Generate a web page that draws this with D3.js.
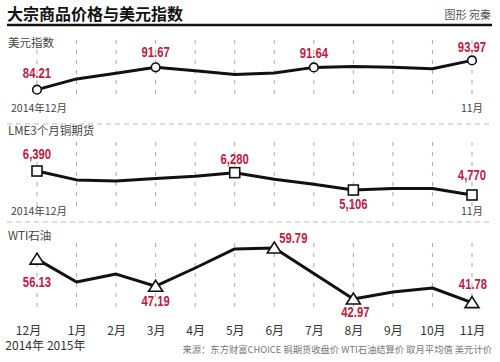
<!DOCTYPE html>
<html>
<head>
<meta charset="utf-8">
<script src="https://cdn.jsdelivr.net/npm/d3@7"></script>
<style>
  body { margin: 0; background: #fff; }
  svg { display: block; font-family: "Noto Sans CJK SC", "Noto Sans", sans-serif; }
</style>
</head>
<body>
<div id="chart"></div>
<script>
const months = ["12月", "1月", "2月", "3月", "4月", "5月", "6月", "7月", "8月", "9月", "10月", "11月"];
const years = ["2014年", "2015年"];

const dollarIndex = [84.21, 87.8, 89.7, 91.67, 90.5, 89.3, 89.8, 91.64, 91.9, 91.7, 91.2, 93.97];
const copper = [6390, 5790, 5710, 5880, 6030, 6280, 5830, 5500, 5106, 5217, 5216, 4770];
const oil = [56.13, 48.6, 51.2, 47.19, 53.2, 59.5, 59.79, 51.4, 42.97, 45.3, 46.6, 41.78];

// which months get a marker + value label
const dollarMarks = [0, 3, 7, 11];
const copperMarks = [0, 5, 8, 11];
const oilMarks = [0, 3, 6, 8, 11];

const width = 500, height = 362;
const red = "#c4173f";
const numFont = "'Liberation Sans', Arial, sans-serif";

const svg = d3.select("#chart").append("svg")
  .attr("width", width)
  .attr("height", height);

const x = d3.scalePoint()
  .domain(months)
  .range([37, 472]);

// title
svg.append("text")
  .attr("x", 7).attr("y", 20)
  .attr("font-size", 16).attr("font-weight", 700)
  .attr("fill", "#111")
  .text("大宗商品价格与美元指数");

svg.append("text")
  .attr("x", 491).attr("y", 19)
  .attr("text-anchor", "end")
  .attr("font-size", 11).attr("fill", "#555")
  .text("图形 宛秦");

svg.append("line")
  .attr("x1", 7).attr("x2", 492)
  .attr("y1", 25).attr("y2", 25)
  .attr("stroke", "#111").attr("stroke-width", 2.5);

// panel separators
[124, 222].forEach(y => {
  svg.append("line")
    .attr("x1", 7).attr("x2", 492)
    .attr("y1", y).attr("y2", y)
    .attr("stroke", "#bbb").attr("stroke-width", 1)
    .attr("stroke-dasharray", "5,4");
});

const panels = [
  {
    name: "美元指数", values: dollarIndex, marks: dollarMarks, shape: "circle",
    labelY: 47, gridTop: 40, gridBottom: 98,
    y: d3.scaleLinear().domain([80, 96]).range([102.3, 54.3]),
    fmt: d3.format(".2f"),
    place: [[0, -17], [0, -16], [0, -15], [0, -14]],
    footer: 112
  },
  {
    name: "LME3个月铜期货", values: copper, marks: copperMarks, shape: "square",
    labelY: 135, gridTop: 142, gridBottom: 207,
    y: d3.scaleLinear().domain([4500, 6500]).range([199, 169.4]),
    fmt: d3.format(","),
    place: [[0, -17], [0, -14], [0, 14], [0, -20]],
    footer: 215
  },
  {
    name: "WTI石油", values: oil, marks: oilMarks, shape: "triangle",
    labelY: 240, gridTop: 243, gridBottom: 313,
    y: d3.scaleLinear().domain([40, 60]).range([308, 247.4]),
    fmt: d3.format(".2f"),
    place: [[0, 23], [0, 15], [19, -10], [2, 13], [1, -19]],
    footer: null
  }
];

const line = (p) => d3.line()
  .x((d, i) => x(months[i]))
  .y(d => p.y(d));

panels.forEach(p => {
  const g = svg.append("g");

  g.append("text")
    .attr("x", 8).attr("y", p.labelY)
    .attr("font-size", 11.5).attr("fill", "#444")
    .text(p.name);

  g.selectAll(".grid")
    .data(months.slice(1))
    .join("line")
    .attr("x1", d => x(d)).attr("x2", d => x(d))
    .attr("y1", p.gridTop).attr("y2", p.gridBottom)
    .attr("stroke", "#aaa").attr("stroke-width", 1)
    .attr("stroke-dasharray", "4,6");

  g.append("line")
    .attr("x1", x(months[0])).attr("x2", x(months[0]))
    .attr("y1", p.gridTop + 10).attr("y2", p.gridBottom)
    .attr("stroke", "#aaa").attr("stroke-width", 1)
    .attr("stroke-dasharray", "4,6");

  g.append("path")
    .datum(p.values)
    .attr("d", line(p))
    .attr("fill", "none")
    .attr("stroke", "#111")
    .attr("stroke-width", 3)
    .attr("stroke-linejoin", "round");

  const marks = g.selectAll(".mark")
    .data(p.marks)
    .join("g")
    .attr("transform", i => `translate(${x(months[i])},${p.y(p.values[i])})`);

  if (p.shape === "circle") {
    marks.append("circle").attr("r", 4.3)
      .attr("fill", "#fff").attr("stroke", "#111").attr("stroke-width", 1.6);
  } else if (p.shape === "square") {
    marks.append("rect").attr("x", -5).attr("y", -5).attr("width", 10).attr("height", 10)
      .attr("fill", "#fff").attr("stroke", "#111").attr("stroke-width", 1.6);
  } else {
    marks.append("path").attr("d", "M0,-6L7,5L-7,5Z")
      .attr("fill", "#fff").attr("stroke", "#111").attr("stroke-width", 1.6);
  }

  // condensed bold value labels (squeezed horizontally)
  marks.append("text")
    .attr("transform", (d, k) => `translate(${p.place[k][0]},${p.place[k][1]}) scale(0.78,1)`)
    .attr("dy", "0.36em")
    .attr("text-anchor", "middle")
    .attr("font-family", numFont)
    .attr("font-weight", 700)
    .attr("font-size", 14.5)
    .attr("fill", red)
    .text(i => p.fmt(p.values[i]));

  if (p.footer) {
    g.append("text")
      .attr("x", 11).attr("y", p.footer)
      .attr("font-size", 10.5).attr("fill", "#444")
      .text("2014年12月");
    g.append("text")
      .attr("x", x(months[11])).attr("y", p.footer)
      .attr("text-anchor", "middle")
      .attr("font-size", 10.5).attr("fill", "#444")
      .text("11月");
  }
});

// bottom month axis
const axis = d3.axisBottom(x).tickSize(0).tickPadding(0);
const ax = svg.append("g")
  .attr("transform", "translate(0,326)")
  .call(axis);
ax.select(".domain").remove();
ax.selectAll("text")
  .attr("font-family", "'Noto Sans CJK SC', sans-serif")
  .attr("font-size", 12)
  .attr("fill", "#333")
  .attr("dx", (d, i) => i === 0 ? -9 : 0);

svg.selectAll(".year")
  .data(years)
  .join("text")
  .attr("x", (d, i) => x(months[i]) + (i === 0 ? 7 : 9))
  .attr("y", 350)
  .attr("text-anchor", "end")
  .attr("font-size", 12)
  .attr("fill", "#333")
  .text(d => d);

svg.append("text")
  .attr("x", 492).attr("y", 353)
  .attr("text-anchor", "end")
  .attr("font-size", 9.3).attr("fill", "#777")
  .text("来源：东方财富CHOICE 铜期货收盘价 WTI石油结算价 取月平均值 美元计价");
</script>
</body>
</html>
